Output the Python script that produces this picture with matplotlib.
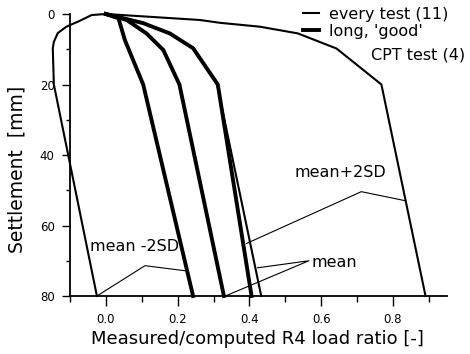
import numpy as np
import matplotlib
matplotlib.use("Agg")
import matplotlib.pyplot as plt
from matplotlib.lines import Line2D

#----------- measured/computed R4 load ratio vs settlement ----------#
# every test (11): mean and mean +/- 2SD
all_m2sd_ratio = [0.0, -0.04, -0.072, -0.11, -0.134, -0.145, -0.148, -0.145, -0.025]
all_m2sd_settl = [0.0, 0.3, 1.9, 3.6, 5.4, 7.9, 9.7, 20.0, 80.0]

all_mean_ratio = [0.0, 0.10, 0.175, 0.245, 0.31, 0.433]
all_mean_settl = [0.0, 2.3, 5.5, 9.8, 20.0, 80.0]

all_p2sd_ratio = [0.0, 0.262, 0.318, 0.429, 0.535, 0.643, 0.768, 0.891]
all_p2sd_settl = [0.0, 1.7, 2.5, 3.6, 5.5, 9.8, 20.0, 80.0]

# long, 'good' CPT test (4)
good_m2sd_ratio = [0.0, 0.035, 0.053, 0.104, 0.243]
good_m2sd_settl = [0.0, 1.2, 7.4, 20.0, 80.0]

good_mean_ratio = [0.0, 0.058, 0.113, 0.16, 0.205, 0.329]
good_mean_settl = [0.0, 1.7, 5.5, 10.2, 20.0, 80.0]

good_p2sd_ratio = [0.0, 0.104, 0.178, 0.243, 0.312, 0.406]
good_p2sd_settl = [0.0, 2.6, 5.5, 9.7, 20.0, 80.0]

# labels with their leader lines (ratio, settlement)
lab_m2sd = ("mean -2SD", -0.045, 66.0)
lead_m2sd = ([-0.025, 0.109, 0.226], [80.0, 71.4, 72.9])
lab_mean = ("mean", 0.573, 70.6)
lead_mean = ([0.423, 0.566, 0.333], [72.0, 70.0, 80.0])
lab_p2sd = ("mean+2SD", 0.526, 45.0)
lead_p2sd = ([0.392, 0.712, 0.836], [65.1, 50.4, 53.0])

thin = 1.5
thick = 2.8

fig = plt.figure(figsize=(4.7, 3.54), dpi=100)
ax = fig.add_axes([70/470, 1-296/354, 376.7/470, 282/354])

ax.plot(all_m2sd_ratio, all_m2sd_settl, 'k-', lw=thin, clip_on=False)
ax.plot(all_mean_ratio, all_mean_settl, 'k-', lw=thin, clip_on=False)
ax.plot(all_p2sd_ratio, all_p2sd_settl, 'k-', lw=thin, clip_on=False)
ax.plot(good_m2sd_ratio, good_m2sd_settl, 'k-', lw=thick, clip_on=False)
ax.plot(good_mean_ratio, good_mean_settl, 'k-', lw=thick, clip_on=False)
ax.plot(good_p2sd_ratio, good_p2sd_settl, 'k-', lw=thick, clip_on=False)

# leader lines and labels
for lx, ly in (lead_m2sd, lead_mean, lead_p2sd):
    ax.plot(lx, ly, 'k-', lw=0.8, clip_on=False)
for txt, tx, ty in (lab_m2sd, lab_mean, lab_p2sd):
    ax.text(tx, ty, txt, fontsize=11.5, ha='left', va='center')

ax.set_xlim(-0.1, 0.95)
ax.set_ylim(80, 0)
ax.set_xticks(np.arange(0.0, 0.81, 0.2))
ax.set_xticks(np.arange(-0.1, 0.91, 0.1), minor=True)
ax.set_yticks(np.arange(0, 81, 20))
ax.set_yticks(np.arange(0, 81, 10), minor=True)
ax.xaxis.set_major_formatter(matplotlib.ticker.FormatStrFormatter('%.1f'))

for s in ('top', 'right'):
    ax.spines[s].set_visible(False)
for s in ('left', 'bottom'):
    ax.spines[s].set_linewidth(1.3)
ax.tick_params(axis='x', which='major', length=7.5, width=1, pad=5, labelsize=8.5)
ax.tick_params(axis='x', which='minor', length=4, width=1)
ax.tick_params(axis='y', which='major', length=6, width=1, pad=5, labelsize=8.5)
ax.tick_params(axis='y', which='minor', length=3, width=1)

fig.text(257.5/470, 1-339/354, "Measured/computed R4 load ratio [-]",
         fontsize=13, ha='center', va='center')
fig.text(17/470, 1-169/354, "Settlement  [mm]", fontsize=13.5,
         rotation=90, ha='center', va='center')

# legend
handles = [Line2D([], [], color='k', lw=thin),
           Line2D([], [], color='k', lw=thick)]
leg = ax.legend(handles, ["every test (11)", "long, 'good'"],
                loc='upper left', bbox_to_anchor=(303/470, 1-7/354),
                bbox_transform=fig.transFigure, frameon=False,
                fontsize=11.5, handlelength=1.0, handletextpad=0.6,
                labelspacing=0.1, borderpad=0.0, borderaxespad=0.0)
fig.text(371/470, 1-55/354, "CPT test (4)", fontsize=11.5,
         ha='left', va='center')

fig.savefig('out.png', dpi=100)
